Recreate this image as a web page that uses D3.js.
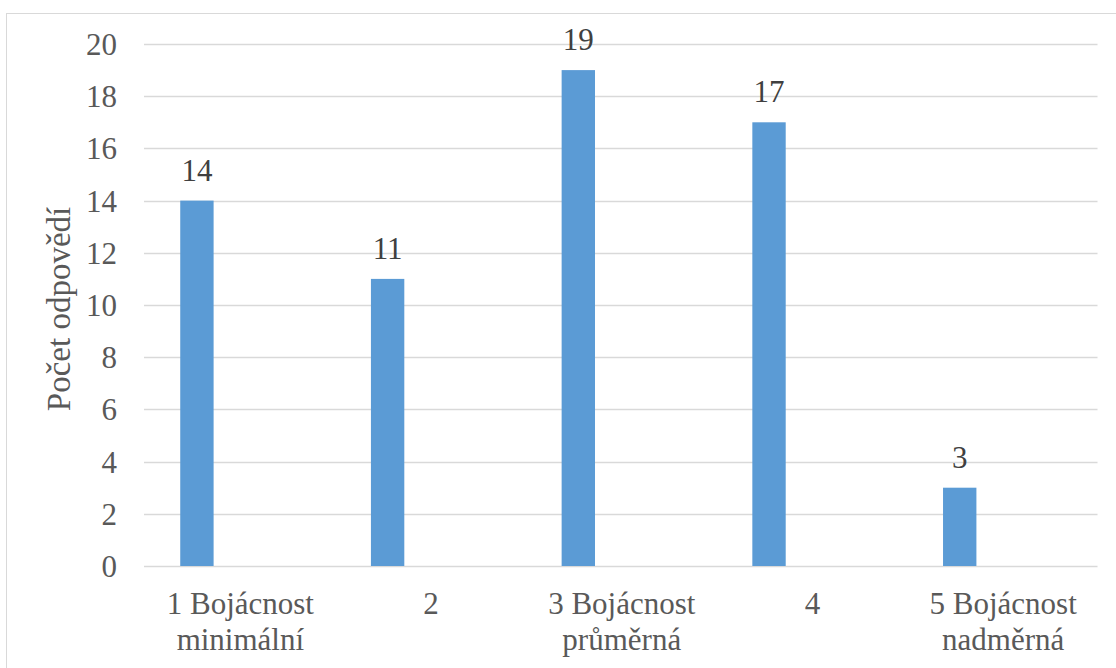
<!DOCTYPE html>
<html>
<head>
<meta charset="utf-8">
<script src="https://cdn.jsdelivr.net/npm/d3@7"></script>
<style>
  html, body { margin: 0; padding: 0; background: #fff; }
  svg { display: block; }
</style>
</head>
<body>
<svg id="chart" width="1116" height="668"></svg>
<script>
// Odpovědi podle míry bojácnosti
const categories = [
  ["1 Bojácnost", "minimální"],
  ["2"],
  ["3 Bojácnost", "průměrná"],
  ["4"],
  ["5 Bojácnost", "nadměrná"]
];
const values = [14, 11, 19, 17, 3];
const yTicks = [0, 2, 4, 6, 8, 10, 12, 14, 16, 18, 20];
const yTitle = "Počet odpovědí";

const W = 1116, H = 668;
const FONT = '"Liberation Serif", "Times New Roman", serif';
const margin = { left: 144, right: 1116 - 1097.5, top: 44, bottom: 668 - 566 };

const svg = d3.select("#chart");

// chart frame
svg.append("rect")
  .attr("x", 6.5).attr("y", 13.5)
  .attr("width", W).attr("height", H)
  .attr("fill", "#fff")
  .attr("stroke", "#d9d9d9")
  .attr("stroke-width", 1);

const keys = categories.map((c, i) => i);

const x = d3.scaleBand()
  .domain(keys)
  .range([margin.left, W - margin.right])
  .padding(0);

const y = d3.scaleLinear()
  .domain([0, 20])
  .range([H - margin.bottom, margin.top]);

// gridlines
svg.append("g")
  .selectAll("line")
  .data(yTicks)
  .join("line")
  .attr("x1", margin.left)
  .attr("x2", W - margin.right)
  .attr("y1", d => Math.round(y(d)) + 0.5)
  .attr("y2", d => Math.round(y(d)) + 0.5)
  .attr("stroke", "#d9d9d9")
  .attr("stroke-width", 1.3);

// y axis labels
const yAxis = d3.axisLeft(y).tickValues(yTicks).tickSize(0).tickPadding(0);
const gy = svg.append("g")
  .attr("transform", `translate(117,0)`)
  .call(yAxis)
  .attr("font-family", null)
  .attr("font-size", null);
gy.select(".domain").remove();
gy.selectAll("text")
  .style("font-family", FONT)
  .style("font-size", "31px")
  .attr("fill", "#595959")
  .attr("dy", "0.34em");

// bars sit in the first slot of each category
const slotStart = 0.19, slotWidth = 0.175;
svg.append("g")
  .selectAll("rect")
  .data(values)
  .join("rect")
  .attr("x", (d, i) => x(i) + x.bandwidth() * slotStart)
  .attr("width", x.bandwidth() * slotWidth)
  .attr("y", d => y(d))
  .attr("height", d => y(0) - y(d))
  .attr("fill", "#5b9bd5");

// value labels
svg.append("g")
  .selectAll("text")
  .data(values)
  .join("text")
  .attr("x", (d, i) => x(i) + x.bandwidth() * (slotStart + slotWidth / 2))
  .attr("y", d => y(d) - 20)
  .attr("text-anchor", "middle")
  .attr("fill", "#404040")
  .style("font-family", FONT)
  .style("font-size", "31px")
  .text(d => d);

// category labels
const xl = svg.append("g")
  .selectAll("text")
  .data(categories)
  .join("text")
  .attr("x", (d, i) => x(i) + x.bandwidth() / 2 + 1)
  .attr("y", 614)
  .attr("text-anchor", "middle")
  .attr("fill", "#595959")
  .style("font-family", FONT)
  .style("font-size", "31px");
xl.selectAll("tspan")
  .data(d => d)
  .join("tspan")
  .attr("x", function () { return d3.select(this.parentNode).attr("x"); })
  .attr("dy", (d, i) => i === 0 ? 0 : 36)
  .text(d => d);

// y axis title
svg.append("text")
  .attr("transform", `translate(70,309) rotate(-90)`)
  .attr("text-anchor", "middle")
  .attr("fill", "#595959")
  .style("font-family", FONT)
  .style("font-size", "33px")
  .text(yTitle);
</script>
</body>
</html>
